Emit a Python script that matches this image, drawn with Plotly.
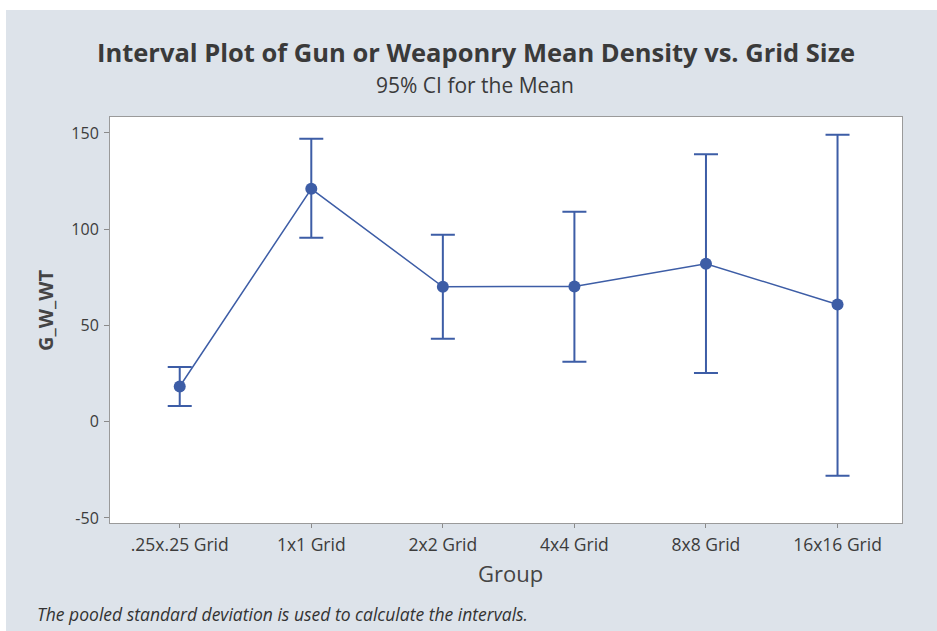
import plotly.graph_objects as go

# Interval plot data: group means with 95% CI bounds
groups = [".25x.25 Grid", "1x1 Grid", "2x2 Grid", "4x4 Grid", "8x8 Grid", "16x16 Grid"]
means = [18.3, 121.0, 70.1, 70.3, 82.1, 60.9]
ci_upper = [28.4, 147.0, 97.1, 109.1, 138.9, 149.1]
ci_lower = [8.2, 95.6, 43.1, 31.2, 25.3, -28.1]
y_ticks = [-50, 0, 50, 100, 150]

err_plus = [u - m for u, m in zip(ci_upper, means)]
err_minus = [m - l for m, l in zip(means, ci_lower)]

BLUE = "#3d5da6"
TEXT = "#3a3a3a"
FONT = "Open Sans"

W, H = 937, 631
L, R, T, B = 110, 35, 117, 108
PW, PH = W - L - R, H - T - B


def px(x):
    return (x - L) / PW


def py(y):
    return (H - B - y) / PH


fig = go.Figure()
fig.add_trace(go.Scatter(
    x=list(range(len(groups))),
    y=means,
    mode="lines+markers",
    line=dict(color=BLUE, width=1.5),
    marker=dict(color=BLUE, size=12),
    error_y=dict(type="data", symmetric=False, array=err_plus, arrayminus=err_minus,
                 color=BLUE, thickness=2, width=12),
    showlegend=False,
))

fig.update_layout(
    width=W, height=H,
    margin=dict(l=L, r=R, t=T, b=B),
    paper_bgcolor="#dde3ea",
    plot_bgcolor="white",
    font=dict(family=FONT, color=TEXT),
    xaxis=dict(
        range=[-0.53, 5.49],
        tickmode="array",
        tickvals=list(range(len(groups))),
        ticktext=groups,
        ticks="outside", ticklen=4, tickcolor="#8a8a8a",
        tickfont=dict(size=17.5, color="#3c3c3c"),
        showgrid=False, zeroline=False,
        showline=True, mirror=True, linecolor="#9a9a9a", linewidth=1,
        ticklabelstandoff=2,
    ),
    yaxis=dict(
        range=[-52.6, 158.3],
        tickmode="array",
        tickvals=y_ticks,
        ticktext=[str(v) for v in y_ticks],
        ticks="outside", ticklen=5, tickcolor="#8a8a8a",
        tickfont=dict(size=16, color="#3c3c3c"),
        showgrid=False, zeroline=False,
        showline=True, mirror=True, linecolor="#9a9a9a", linewidth=1,
        ticklabelstandoff=2,
    ),
    shapes=[
        dict(type="rect", xref="paper", yref="paper", x0=-0.3, x1=1.3,
             y0=py(10), y1=py(-20), fillcolor="white", line=dict(width=0), layer="below"),
        dict(type="rect", xref="paper", yref="paper", x0=-0.3, x1=px(6),
             y0=py(660), y1=py(-20), fillcolor="white", line=dict(width=0), layer="below"),
    ],
    annotations=[
        dict(text="<b>Interval Plot of Gun or Weaponry Mean Density vs. Grid Size</b>",
             xref="paper", yref="paper", x=px(476), y=py(52), xanchor="center", yanchor="middle",
             showarrow=False, font=dict(size=25.5, color=TEXT)),
        dict(text="95% CI for the Mean",
             xref="paper", yref="paper", x=px(475), y=py(85), xanchor="center", yanchor="middle",
             showarrow=False, font=dict(size=21, color=TEXT)),
        dict(text="Group",
             xref="paper", yref="paper", x=px(510), y=py(573), xanchor="center", yanchor="middle",
             showarrow=False, font=dict(size=22, color="#444444")),
        dict(text="<b>G_W_WT</b>", textangle=-90,
             xref="paper", yref="paper", x=px(45), y=py(310), xanchor="center", yanchor="middle",
             showarrow=False, font=dict(size=20, color="#444444")),
        dict(text="<i>The pooled standard deviation is used to calculate the intervals.</i>",
             xref="paper", yref="paper", x=px(35), y=py(614), xanchor="left", yanchor="middle",
             showarrow=False, font=dict(size=17.5, color="#333333")),
    ],
)

fig.write_html("out.html")
